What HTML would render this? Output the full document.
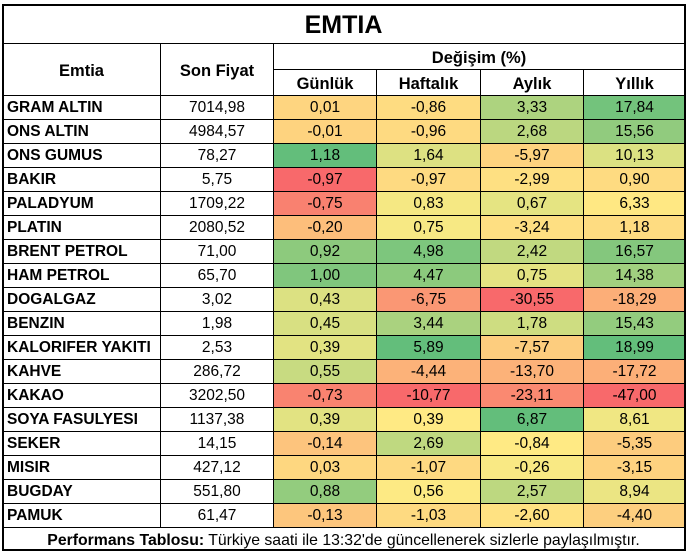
<!DOCTYPE html>
<html>
<head>
<meta charset="utf-8">
<style>
html,body{margin:0;padding:0;background:#fff;}
body{width:688px;height:552px;position:relative;overflow:hidden;font-family:"Liberation Sans",Arial,sans-serif;color:#000;}
.abs{position:absolute;}
.hl{position:absolute;height:1px;background:#000;}
.vl{position:absolute;width:1px;background:#000;}
.t{position:absolute;text-align:center;font-weight:bold;white-space:nowrap;}
.row{position:absolute;left:0;width:688px;height:24px;}
.row div{position:absolute;top:0;height:24px;line-height:26px;font-size:15.5px;text-align:center;white-space:nowrap;}
.row .n{left:7px;width:152px;text-align:left;font-weight:bold;}
.row .p{left:161px;width:112px;}
.row .c1{left:274px;width:102px;}
.row .c2{left:377px;width:103px;}
.row .c3{left:481px;width:102px;}
.row .c4{left:584px;width:101px;}
</style>
</head>
<body>

<!-- title -->
<div class="t" style="left:3px;top:5px;width:681px;height:38px;line-height:40px;font-size:25px;">EMTIA</div>

<!-- headers -->
<div class="t" style="left:3px;top:44px;width:157px;height:51px;line-height:54px;font-size:16.5px;">Emtia</div>
<div class="t" style="left:161px;top:44px;width:112px;height:51px;line-height:54px;font-size:16.5px;">Son Fiyat</div>
<div class="t" style="left:274px;top:44px;width:410px;height:25px;line-height:28px;font-size:16.5px;">Değişim (%)</div>
<div class="t" style="left:274px;top:70px;width:102px;height:25px;line-height:28px;font-size:16.5px;">Günlük</div>
<div class="t" style="left:377px;top:70px;width:103px;height:25px;line-height:28px;font-size:16.5px;">Haftalık</div>
<div class="t" style="left:481px;top:70px;width:102px;height:25px;line-height:28px;font-size:16.5px;">Aylık</div>
<div class="t" style="left:584px;top:70px;width:101px;height:25px;line-height:28px;font-size:16.5px;">Yıllık</div>

<!-- data rows -->
<div class="row" style="top:95px"><div class="n">GRAM ALTIN</div><div class="p">7014,98</div><div class="c1" style="background:rgb(254,213,128)">0,01</div><div class="c2" style="background:rgb(254,220,129)">-0,86</div><div class="c3" style="background:rgb(173,211,127)">3,33</div><div class="c4" style="background:rgb(115,195,124)">17,84</div></div>
<div class="row" style="top:119px"><div class="n">ONS ALTIN</div><div class="p">4984,57</div><div class="c1" style="background:rgb(254,211,127)">-0,01</div><div class="c2" style="background:rgb(254,218,129)">-0,96</div><div class="c3" style="background:rgb(187,215,128)">2,68</div><div class="c4" style="background:rgb(145,203,126)">15,56</div></div>
<div class="row" style="top:143px"><div class="n">ONS GUMUS</div><div class="p">78,27</div><div class="c1" style="background:rgb(99,190,123)">1,18</div><div class="c2" style="background:rgb(221,225,130)">1,64</div><div class="c3" style="background:rgb(254,211,127)">-5,97</div><div class="c4" style="background:rgb(219,225,130)">10,13</div></div>
<div class="row" style="top:167px"><div class="n">BAKIR</div><div class="p">5,75</div><div class="c1" style="background:rgb(248,105,107)">-0,97</div><div class="c2" style="background:rgb(254,218,129)">-0,97</div><div class="c3" style="background:rgb(254,224,130)">-2,99</div><div class="c4" style="background:rgb(254,219,129)">0,90</div></div>
<div class="row" style="top:191px"><div class="n">PALADYUM</div><div class="p">1709,22</div><div class="c1" style="background:rgb(249,129,112)">-0,75</div><div class="c2" style="background:rgb(245,232,131)">0,83</div><div class="c3" style="background:rgb(229,228,130)">0,67</div><div class="c4" style="background:rgb(255,232,131)">6,33</div></div>
<div class="row" style="top:215px"><div class="n">PLATIN</div><div class="p">2080,52</div><div class="c1" style="background:rgb(253,190,123)">-0,20</div><div class="c2" style="background:rgb(247,233,132)">0,75</div><div class="c3" style="background:rgb(254,223,130)">-3,24</div><div class="c4" style="background:rgb(254,220,129)">1,18</div></div>
<div class="row" style="top:239px"><div class="n">BRENT PETROL</div><div class="p">71,00</div><div class="c1" style="background:rgb(141,202,125)">0,92</div><div class="c2" style="background:rgb(125,198,125)">4,98</div><div class="c3" style="background:rgb(193,217,128)">2,42</div><div class="c4" style="background:rgb(132,199,125)">16,57</div></div>
<div class="row" style="top:263px"><div class="n">HAM PETROL</div><div class="p">65,70</div><div class="c1" style="background:rgb(128,198,125)">1,00</div><div class="c2" style="background:rgb(140,202,125)">4,47</div><div class="c3" style="background:rgb(228,227,130)">0,75</div><div class="c4" style="background:rgb(161,208,127)">14,38</div></div>
<div class="row" style="top:287px"><div class="n">DOGALGAZ</div><div class="p">3,02</div><div class="c1" style="background:rgb(220,225,130)">0,43</div><div class="c2" style="background:rgb(250,151,116)">-6,75</div><div class="c3" style="background:rgb(248,105,107)">-30,55</div><div class="c4" style="background:rgb(252,174,120)">-18,29</div></div>
<div class="row" style="top:311px"><div class="n">BENZIN</div><div class="p">1,98</div><div class="c1" style="background:rgb(216,224,130)">0,45</div><div class="c2" style="background:rgb(170,210,127)">3,44</div><div class="c3" style="background:rgb(206,221,129)">1,78</div><div class="c4" style="background:rgb(147,204,126)">15,43</div></div>
<div class="row" style="top:335px"><div class="n">KALORIFER YAKITI</div><div class="p">2,53</div><div class="c1" style="background:rgb(226,227,130)">0,39</div><div class="c2" style="background:rgb(99,190,123)">5,89</div><div class="c3" style="background:rgb(253,205,126)">-7,57</div><div class="c4" style="background:rgb(99,190,123)">18,99</div></div>
<div class="row" style="top:359px"><div class="n">KAHVE</div><div class="p">286,72</div><div class="c1" style="background:rgb(200,219,129)">0,55</div><div class="c2" style="background:rgb(252,178,121)">-4,44</div><div class="c3" style="background:rgb(252,178,121)">-13,70</div><div class="c4" style="background:rgb(252,175,120)">-17,72</div></div>
<div class="row" style="top:383px"><div class="n">KAKAO</div><div class="p">3202,50</div><div class="c1" style="background:rgb(249,131,112)">-0,73</div><div class="c2" style="background:rgb(248,105,107)">-10,77</div><div class="c3" style="background:rgb(250,137,113)">-23,11</div><div class="c4" style="background:rgb(248,105,107)">-47,00</div></div>
<div class="row" style="top:407px"><div class="n">SOYA FASULYESI</div><div class="p">1137,38</div><div class="c1" style="background:rgb(226,227,130)">0,39</div><div class="c2" style="background:rgb(255,234,132)">0,39</div><div class="c3" style="background:rgb(99,190,123)">6,87</div><div class="c4" style="background:rgb(240,231,131)">8,61</div></div>
<div class="row" style="top:431px"><div class="n">SEKER</div><div class="p">14,15</div><div class="c1" style="background:rgb(253,196,125)">-0,14</div><div class="c2" style="background:rgb(191,217,128)">2,69</div><div class="c3" style="background:rgb(255,234,132)">-0,84</div><div class="c4" style="background:rgb(253,204,126)">-5,35</div></div>
<div class="row" style="top:455px"><div class="n">MISIR</div><div class="p">427,12</div><div class="c1" style="background:rgb(254,215,128)">0,03</div><div class="c2" style="background:rgb(254,217,129)">-1,07</div><div class="c3" style="background:rgb(249,233,132)">-0,26</div><div class="c4" style="background:rgb(254,210,127)">-3,15</div></div>
<div class="row" style="top:479px"><div class="n">BUGDAY</div><div class="p">551,80</div><div class="c1" style="background:rgb(147,204,126)">0,88</div><div class="c2" style="background:rgb(253,234,132)">0,56</div><div class="c3" style="background:rgb(189,216,128)">2,57</div><div class="c4" style="background:rgb(235,229,131)">8,94</div></div>
<div class="row" style="top:503px"><div class="n">PAMUK</div><div class="p">61,47</div><div class="c1" style="background:rgb(253,198,125)">-0,13</div><div class="c2" style="background:rgb(254,218,129)">-1,03</div><div class="c3" style="background:rgb(255,226,130)">-2,60</div><div class="c4" style="background:rgb(253,207,127)">-4,40</div></div>

<!-- footer -->
<div class="abs" style="left:3px;top:528px;width:681px;height:21px;line-height:26px;text-align:center;font-size:15.8px;white-space:nowrap;"><b>Performans Tablosu:</b> Türkiye saati ile 13:32'de güncellenerek sizlerle paylaşılmıştır.</div>

<!-- grid lines -->
<div class="hl" style="left:2px;top:43px;width:684px;"></div>
<div class="hl" style="left:273px;top:69px;width:413px;"></div>
<div class="hl" style="left:2px;top:95px;width:684px;"></div>
<div class="hl" style="left:2px;top:119px;width:684px;"></div>
<div class="hl" style="left:2px;top:143px;width:684px;"></div>
<div class="hl" style="left:2px;top:167px;width:684px;"></div>
<div class="hl" style="left:2px;top:191px;width:684px;"></div>
<div class="hl" style="left:2px;top:215px;width:684px;"></div>
<div class="hl" style="left:2px;top:239px;width:684px;"></div>
<div class="hl" style="left:2px;top:263px;width:684px;"></div>
<div class="hl" style="left:2px;top:287px;width:684px;"></div>
<div class="hl" style="left:2px;top:311px;width:684px;"></div>
<div class="hl" style="left:2px;top:335px;width:684px;"></div>
<div class="hl" style="left:2px;top:359px;width:684px;"></div>
<div class="hl" style="left:2px;top:383px;width:684px;"></div>
<div class="hl" style="left:2px;top:407px;width:684px;"></div>
<div class="hl" style="left:2px;top:431px;width:684px;"></div>
<div class="hl" style="left:2px;top:455px;width:684px;"></div>
<div class="hl" style="left:2px;top:479px;width:684px;"></div>
<div class="hl" style="left:2px;top:503px;width:684px;"></div>
<div class="hl" style="left:2px;top:527px;width:684px;"></div>

<div class="vl" style="left:160px;top:43px;height:484px;"></div>
<div class="vl" style="left:273px;top:43px;height:484px;"></div>
<div class="vl" style="left:376px;top:69px;height:458px;"></div>
<div class="vl" style="left:480px;top:69px;height:458px;"></div>
<div class="vl" style="left:583px;top:69px;height:458px;"></div>

<!-- outer border -->
<div class="abs" style="left:2px;top:4px;width:680px;height:543px;border:2px solid #000;"></div>

</body>
</html>
